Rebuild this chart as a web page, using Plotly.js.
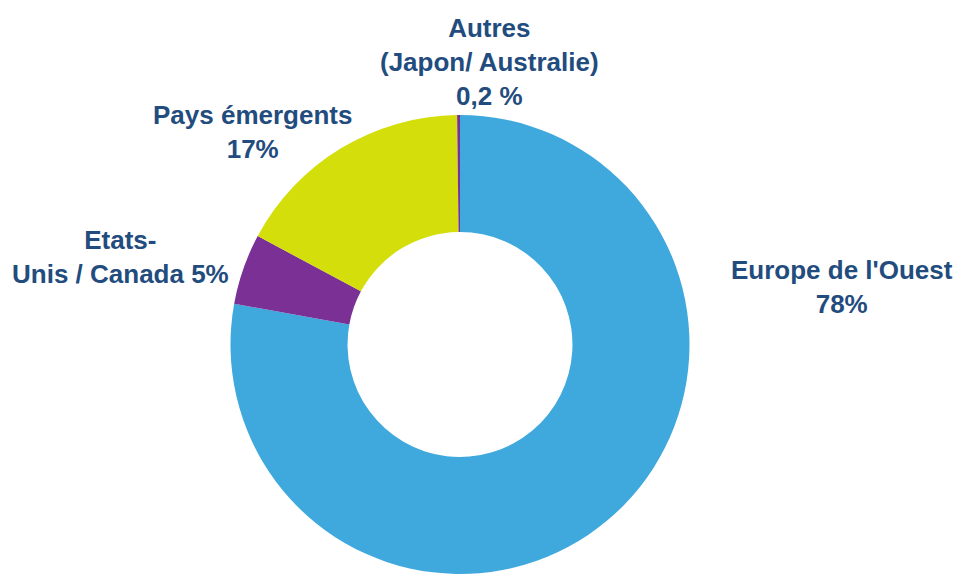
<!DOCTYPE html>
<html>
<head>
<meta charset="utf-8">
<script src="https://cdn.plot.ly/plotly-3.0.1.min.js"></script>
<style>html,body{margin:0;padding:0;background:#fff;}#chart{width:960px;height:574px;}</style>
</head>
<body>
<div id="chart"></div>
<script>
const categories = ["Europe de l'Ouest", "Etats-Unis / Canada", "Pays émergents", "Autres (Japon/ Australie)"];
const values = [78, 5, 17, 0.2];
const valueLabels = ["78%", "5%", "17%", "0,2 %"];
const labelTexts = [
  "Europe de l'Ouest<br>78%",
  "Etats-<br>Unis / Canada 5%",
  "Pays émergents<br>17%",
  "Autres<br>(Japon/ Australie)<br>0,2 %"
];
const colors = ["#3FA9DD", "#7A3095", "#D3DE0A", "#7A3095"];

const labelPos = [
  {x: 842, y: 287},
  {x: 120, y: 257},
  {x: 252, y: 132},
  {x: 490, y: 62}
];

const W = 960, H = 574;
const annotations = labelTexts.map((t, i) => ({
  text: t,
  x: labelPos[i].x / W,
  y: 1 - labelPos[i].y / H,
  xref: 'paper', yref: 'paper',
  xanchor: 'center', yanchor: 'middle',
  showarrow: false,
  align: 'center',
  font: {family: 'Liberation Sans, Arial, sans-serif', size: 26, color: '#234C7E', weight: 'bold'}
}));

const trace = {
  type: 'pie',
  labels: categories,
  values: values,
  sort: false,
  direction: 'clockwise',
  rotation: 0,
  hole: 0.49,
  textinfo: 'none',
  hoverinfo: 'label+percent',
  marker: {colors: colors, line: {width: 0}},
  domain: {x: [230 / W, 690 / W], y: [0, 459 / H]},
  showlegend: false
};

Plotly.newPlot('chart', [trace], {
  width: W, height: H,
  margin: {l: 0, r: 0, t: 0, b: 0},
  paper_bgcolor: '#ffffff',
  plot_bgcolor: '#ffffff',
  showlegend: false,
  annotations: annotations
}, {displayModeBar: false, staticPlot: true});
</script>
</body>
</html>
